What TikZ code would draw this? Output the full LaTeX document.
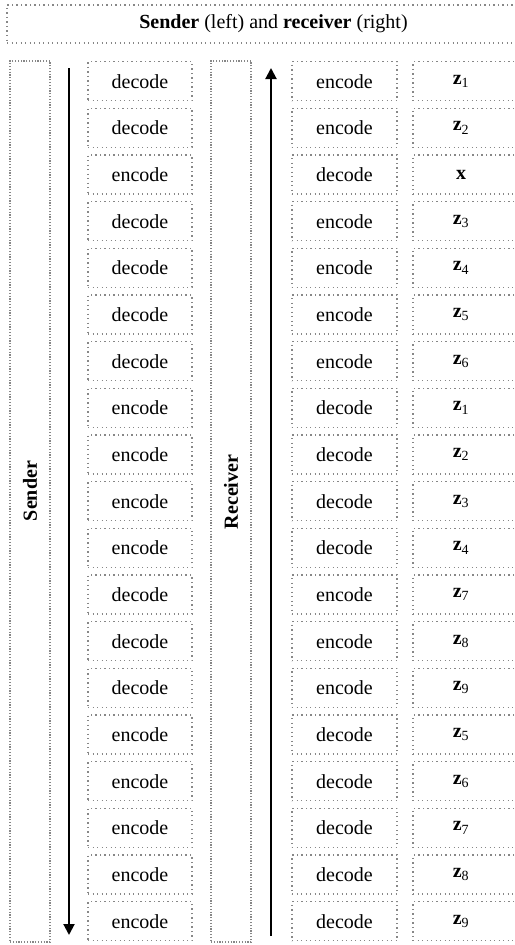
\documentclass[tikz,border=0pt]{standalone}
\usepackage{fontspec}
\setmainfont{Liberation Serif}
\usetikzlibrary{arrows.meta}
\definecolor{dotgray}{RGB}{135,135,135}
\begin{document}
\begin{tikzpicture}[x=1pt,y=-1pt,
  cell/.style={draw=dotgray, line width=1.4pt, dash pattern=on 1.4pt off 3.1pt,
    minimum height=39pt, inner sep=0pt, font=\fontsize{20}{24}\selectfont},
  tallbox/.style={draw=dotgray, line width=1.3pt, dash pattern=on 1.2pt off 1.6pt,
    minimum width=40pt, minimum height=881pt, inner sep=0pt},
  sidelabel/.style={font=\fontsize{20}{24}\selectfont\bfseries, rotate=90},
  flow/.style={line width=2pt, -{Triangle[length=11pt,width=11pt]}}]
\useasboundingbox (0,0) rectangle (514,945);
% header
\node[cell, minimum width=533pt, minimum height=38pt] (head) at (273.5,24)
  {\textbf{Sender} (left) and \textbf{receiver} (right)};
% tall boxes
\node[tallbox] (sbox) at (30,501.5) {};
\node[tallbox] (rbox) at (231,501.5) {};
\node[sidelabel] (slab) at (30,491) {Sender};
\node[sidelabel] (rlab) at (231,492) {Receiver};
% rows
\foreach \a/\b/\c [count=\i from 0] in {
  decode/encode/{\textbf{z}\textsubscript{1}},
  decode/encode/{\textbf{z}\textsubscript{2}},
  encode/decode/{\textbf{x}},
  decode/encode/{\textbf{z}\textsubscript{3}},
  decode/encode/{\textbf{z}\textsubscript{4}},
  decode/encode/{\textbf{z}\textsubscript{5}},
  decode/encode/{\textbf{z}\textsubscript{6}},
  encode/decode/{\textbf{z}\textsubscript{1}},
  encode/decode/{\textbf{z}\textsubscript{2}},
  encode/decode/{\textbf{z}\textsubscript{3}},
  encode/decode/{\textbf{z}\textsubscript{4}},
  decode/encode/{\textbf{z}\textsubscript{7}},
  decode/encode/{\textbf{z}\textsubscript{8}},
  decode/encode/{\textbf{z}\textsubscript{9}},
  encode/decode/{\textbf{z}\textsubscript{5}},
  encode/decode/{\textbf{z}\textsubscript{6}},
  encode/decode/{\textbf{z}\textsubscript{7}},
  encode/decode/{\textbf{z}\textsubscript{8}},
  encode/decode/{\textbf{z}\textsubscript{9}}}{
  \pgfmathsetmacro{\yy}{81.2+46.67*\i}
  \node[cell, minimum width=104pt] (a\i) at (140,\yy) {\a};
  \node[cell, minimum width=105pt] (b\i) at (344.5,\yy) {\b};
  \node[cell, minimum width=130pt] (c\i) at (478,\yy) {};
  \node[font=\fontsize{20}{24}\selectfont, inner sep=0pt] (t\i) at (461,\yy) {\c};
}
% arrows
\coordinate (lt) at (69,68);
\coordinate (lb) at (69,935);
\coordinate (rt) at (271,68);
\coordinate (rb) at (271,936);
\draw[flow] (lt) -- (lb);
\draw[flow] (rb) -- (rt);
\end{tikzpicture}
\end{document}
